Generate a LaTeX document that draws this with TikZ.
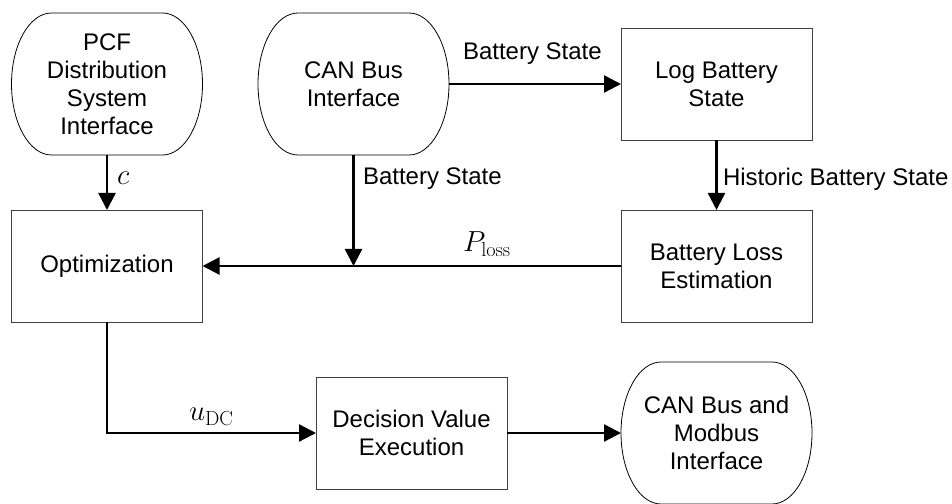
\RequirePackage{fix-cm}
\documentclass[tikz,border=0pt]{standalone}
\usepackage[no-math]{fontspec}
\setmainfont{Liberation Sans}
\usetikzlibrary{arrows.meta,calc}

% Outline of a terminal (flat top and bottom, half-elliptic sides)
\newcommand\terminaloutline[1]{%
  \draw[rim] ($(#1.north west)+(40,0)$) -- ($(#1.north east)+(-40,0)$)
    arc[start angle=90,end angle=-90,x radius=40,y radius=71]
    -- ($(#1.south west)+(40,0)$)
    arc[start angle=270,end angle=90,x radius=40,y radius=71] -- cycle;}

\begin{document}
\begin{tikzpicture}[x=1pt,y=1pt,
  every node/.style={font=\fontsize{24}{28}\selectfont},
  box/.style={draw=black!75, line width=0.9pt, minimum width=191pt,
    minimum height=112pt, inner sep=0pt, outer sep=0pt, align=center},
  terminal/.style={minimum width=191pt, minimum height=142pt,
    inner sep=0pt, outer sep=0pt, align=center},
  rim/.style={draw=black, line width=0.8pt},
  flow/.style={line width=2.4pt, -{Triangle[length=17pt,width=17pt]}},
  lbl/.style={anchor=base west, inner sep=0pt, outer sep=0pt},
  mathlbl/.style={lbl, font=\fontsize{29}{32}\selectfont}]

\useasboundingbox (0,0) rectangle (952,503);

% terminals
\node[terminal] (pcf) at (107,419) {PCF\\Distribution\\System\\Interface};
\node[terminal] (can) at (353.5,419) {CAN Bus\\Interface};
\node[terminal] (modbus) at (716.5,70) {CAN Bus and\\Modbus\\Interface};
\terminaloutline{pcf}
\terminaloutline{can}
\terminaloutline{modbus}

% process blocks
\node[box] (log) at (716.5,419) {Log Battery\\State};
\node[box] (opt) at (107,237) {Optimization};
\node[box] (loss) at (716.5,237) {Battery Loss\\Estimation};
\node[box] (dec) at (411.5,70) {Decision Value\\Execution};

% connectors
\coordinate (tap) at (can.south |- loss.west);
\draw[flow] (pcf.south) -- (opt.north);
\draw[flow] (can.east) -- (log.west);
\draw[flow] (log.south) -- (loss.north);
\draw[flow] (loss.west) -- (opt.east);
\draw[flow] (can.south) -- (tap);
\draw[flow] (opt.south) |- (dec.west);
\draw[flow] (dec.east) -- (modbus.west);

% signal labels
\node[mathlbl] (lc) at (117,318) {$c$};
\node[lbl] (lbsa) at (463,443) {Battery State};
\node[lbl] (lbsb) at (363,318) {Battery State};
\node[lbl] (lhist) at (723,317) {Historic Battery State};
\node[mathlbl] (lploss) at (463,251) {$P_{\mathrm{loss}}$};
\node[mathlbl] (lu) at (189,82) {$u_{\mathrm{DC}}$};
\end{tikzpicture}
\end{document}
